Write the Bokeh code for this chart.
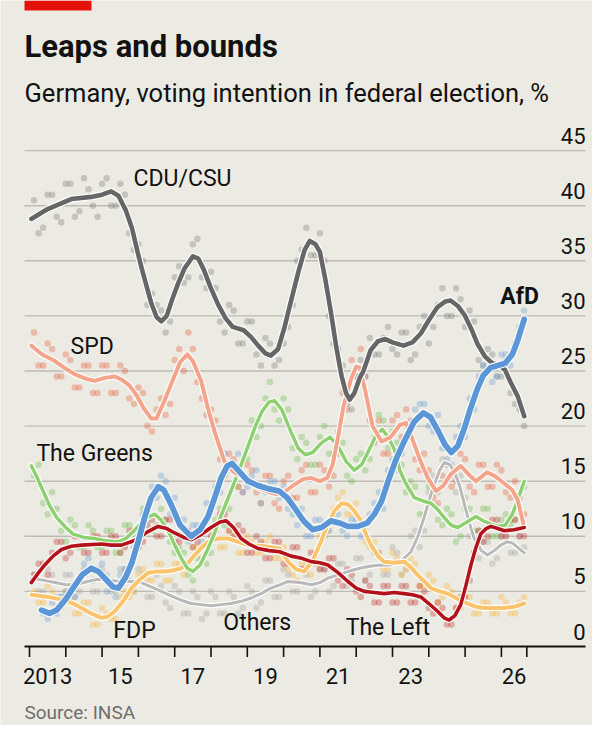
from bokeh.plotting import figure
from bokeh.models import Range1d
from bokeh.core.properties import value
from bokeh.embed import file_html
from bokeh.resources import INLINE

# ---------------- data ----------------
# smoothed trend lines (year, %)
cdu_t = [2013.05, 2013.5, 2014.15, 2014.7, 2015.0, 2015.25, 2015.45, 2015.65, 2015.82, 2016.0, 2016.1, 2016.36, 2016.5,
         2016.63, 2016.78, 2016.92, 2017.1, 2017.27, 2017.5, 2017.65, 2017.8, 2018.0, 2018.2, 2018.4, 2018.6, 2018.9,
         2019.1, 2019.3, 2019.5, 2019.65, 2019.85, 2020.02, 2020.2, 2020.4, 2020.58, 2020.72, 2020.88, 2021.0, 2021.15,
         2021.31, 2021.45, 2021.6, 2021.72, 2021.82, 2021.95, 2022.1, 2022.2, 2022.4, 2022.6, 2022.8, 2023.0, 2023.3,
         2023.55, 2023.78, 2024.0, 2024.24, 2024.45, 2024.6, 2024.8, 2025.0, 2025.2, 2025.35, 2025.55, 2025.75, 2025.95,
         2026.1, 2026.25, 2026.45, 2026.63]
cdu_v = [38.8, 39.7, 40.6, 40.8, 41.0, 41.3, 40.9, 39.6, 38.0, 35.5, 34.2, 31.1, 29.9,
         29.5, 30.0, 31.4, 33.0, 34.3, 35.4, 35.2, 34.2, 32.5, 31.0, 29.8, 29.0, 28.7,
         28.1, 27.3, 26.6, 26.4, 27.0, 28.9, 31.3, 33.9, 36.0, 36.8, 36.5, 35.8, 33.3,
         30.2, 27.2, 24.5, 23.0, 22.4, 23.0, 24.4, 25.0, 26.9, 27.7, 27.9, 27.6, 27.3,
         27.6, 28.4, 29.6, 30.8, 31.3, 31.4, 30.9, 30.0, 28.6, 27.4, 26.3, 25.7, 25.5,
         25.1, 24.0, 22.7, 20.9]

afd_t = [2013.33, 2013.55, 2013.75, 2014.0, 2014.2, 2014.45, 2014.7, 2014.9, 2015.1, 2015.3, 2015.45, 2015.65, 2015.82,
         2016.0, 2016.17, 2016.35, 2016.55, 2016.7, 2016.9, 2017.15, 2017.45, 2017.7, 2017.92, 2018.1, 2018.28, 2018.45,
         2018.58, 2018.8, 2019.02, 2019.3, 2019.6, 2019.88, 2020.1, 2020.3, 2020.55, 2020.8, 2021.05, 2021.3, 2021.55,
         2021.77, 2022.05, 2022.3, 2022.5, 2022.7, 2022.9, 2023.1, 2023.32, 2023.6, 2023.85, 2024.05, 2024.25, 2024.45,
         2024.62, 2024.8, 2024.98, 2025.15, 2025.34, 2025.5, 2025.7, 2025.9, 2026.1, 2026.3, 2026.45, 2026.63]
afd_v = [3.3, 3.0, 3.3, 4.3, 5.3, 6.5, 7.1, 6.8, 6.1, 5.4, 5.3, 6.3, 7.6,
         9.6, 11.7, 13.5, 14.5, 14.2, 12.9, 11.0, 10.0, 10.6, 11.8, 13.5, 15.3, 16.4,
         16.6, 15.8, 15.0, 14.6, 14.3, 14.1, 13.5, 12.6, 11.4, 10.6, 10.8, 11.4, 11.2,
         10.9, 10.9, 11.2, 12.0, 13.2, 15.2, 17.0, 18.6, 20.4, 21.2, 20.8, 19.6, 18.3,
         17.6, 18.2, 19.8, 21.6, 23.4, 24.6, 25.3, 25.5, 25.7, 26.5, 27.8, 29.7]

spd_t = [2013.05, 2013.35, 2013.7, 2014.0, 2014.25, 2014.55, 2014.8, 2015.1, 2015.35, 2015.55, 2015.75, 2015.95, 2016.15,
         2016.35, 2016.5, 2016.72, 2016.95, 2017.15, 2017.35, 2017.5, 2017.73, 2017.9, 2018.1, 2018.37, 2018.6, 2018.8,
         2019.05, 2019.3, 2019.6, 2019.84, 2020.05, 2020.3, 2020.55, 2020.75, 2021.0, 2021.2, 2021.35, 2021.5, 2021.65,
         2021.86, 2022.0, 2022.1, 2022.25, 2022.45, 2022.7, 2022.95, 2023.2, 2023.37, 2023.55, 2023.75, 2023.97, 2024.2,
         2024.4, 2024.6, 2024.88, 2025.1, 2025.3, 2025.6, 2025.8, 2026.0, 2026.3, 2026.45, 2026.63]
spd_v = [27.3, 26.5, 25.9, 25.2, 24.7, 24.3, 24.1, 24.4, 24.5, 24.2, 23.7, 22.8, 21.6,
         20.7, 20.7, 22.3, 24.2, 25.8, 26.5, 25.9, 24.1, 21.8, 19.5, 16.8, 15.9, 15.5,
         15.0, 14.4, 14.0, 13.8, 14.1, 14.7, 15.2, 15.3, 15.0, 15.3, 16.5, 19.0, 21.8,
         24.3, 25.4, 25.3, 23.2, 20.0, 18.6, 19.0, 20.1, 20.3, 18.8, 17.0, 15.3, 14.1,
         14.6, 15.6, 16.4, 15.6, 15.0, 15.8, 15.5, 15.0, 14.2, 13.3, 10.8]

grn_t = [2013.05, 2013.2, 2013.35, 2013.55, 2013.75, 2014.0, 2014.2, 2014.5, 2014.8, 2015.1, 2015.44, 2015.65, 2015.85,
         2016.08, 2016.3, 2016.45, 2016.62, 2016.82, 2017.0, 2017.2, 2017.35, 2017.5, 2017.7, 2017.92, 2018.1, 2018.28,
         2018.5, 2018.74, 2019.0, 2019.2, 2019.4, 2019.6, 2019.75, 2019.95, 2020.2, 2020.4, 2020.6, 2020.8, 2021.05,
         2021.28, 2021.5, 2021.72, 2021.95, 2022.15, 2022.35, 2022.55, 2022.72, 2022.88, 2023.05, 2023.2, 2023.35, 2023.6,
         2023.85, 2024.06, 2024.25, 2024.45, 2024.62, 2024.8, 2025.05, 2025.3, 2025.5, 2025.71, 2025.9, 2026.1, 2026.3,
         2026.45, 2026.63]
grn_v = [16.4, 15.4, 14.3, 12.8, 11.7, 10.8, 10.2, 9.9, 9.8, 9.6, 9.5, 9.8, 10.4,
         11.2, 11.8, 12.0, 11.5, 10.5, 9.2, 7.9, 7.1, 6.8, 7.4, 8.9, 10.3, 11.9,
         13.7, 15.7, 18.0, 19.8, 21.3, 22.2, 22.3, 21.5, 19.5, 18.0, 17.4, 17.6, 18.5,
         19.0, 18.2, 16.8, 16.0, 16.5, 17.8, 19.2, 19.7, 19.0, 17.9, 16.0, 14.9, 13.5,
         13.2, 13.0, 12.4, 11.6, 11.0, 10.8, 11.3, 11.8, 11.4, 11.1, 10.9, 11.0, 12.0,
         13.3, 15.0]

lft_t = [2013.05, 2013.25, 2013.42, 2013.65, 2013.88, 2014.15, 2014.43, 2014.98, 2015.25, 2015.53, 2015.8, 2016.0, 2016.25,
         2016.54, 2016.78, 2017.0, 2017.25, 2017.46, 2017.7, 2018.0, 2018.25, 2018.42, 2018.62, 2018.83, 2019.05, 2019.29,
         2019.6, 2019.89, 2020.21, 2020.5, 2020.76, 2021.0, 2021.22, 2021.5, 2021.77, 2022.0, 2022.22, 2022.5, 2022.77,
         2023.05, 2023.32, 2023.55, 2023.78, 2024.0, 2024.24, 2024.42, 2024.56, 2024.72, 2024.88, 2025.02, 2025.16, 2025.3,
         2025.43, 2025.58, 2025.71, 2025.9, 2026.08, 2026.35, 2026.63]
lft_v = [5.8, 6.7, 7.4, 8.2, 8.8, 9.1, 9.2, 9.3, 9.2, 9.2, 9.5, 9.8, 10.4,
         10.9, 10.7, 10.3, 9.9, 9.7, 10.1, 10.8, 11.3, 11.4, 10.8, 9.8, 9.3, 8.9,
         8.7, 8.6, 8.2, 8.0, 7.7, 7.6, 7.4, 6.7, 5.9, 5.3, 5.0, 4.9, 4.8,
         4.9, 4.8, 4.7, 4.5, 3.9, 3.2, 2.6, 2.4, 2.8, 3.8, 5.5, 7.4, 9.0,
         10.2, 10.7, 10.9, 10.7, 10.5, 10.6, 10.8]

fdp_t = [2013.05, 2013.51, 2013.97, 2014.2, 2014.43, 2014.7, 2014.98, 2015.15, 2015.35, 2015.6, 2015.81, 2016.05, 2016.27,
         2016.5, 2016.72, 2016.95, 2017.18, 2017.4, 2017.55, 2017.75, 2017.92, 2018.2, 2018.47, 2018.75, 2019.02, 2019.47,
         2019.89, 2020.12, 2020.35, 2020.57, 2020.8, 2021.03, 2021.2, 2021.4, 2021.6, 2021.77, 2021.95, 2022.13, 2022.27,
         2022.41, 2022.6, 2022.77, 2023.05, 2023.32, 2023.5, 2023.69, 2023.88, 2024.06, 2024.3, 2024.52, 2024.8, 2025.07,
         2025.3, 2025.53, 2025.8, 2026.08, 2026.35, 2026.63]
fdp_v = [4.7, 4.5, 4.2, 3.9, 3.5, 3.0, 2.6, 2.7, 3.2, 4.2, 5.3, 6.1, 6.7,
         6.8, 6.8, 6.9, 7.1, 7.7, 8.3, 9.0, 9.5, 9.8, 9.8, 9.5, 9.2, 9.1,
         8.9, 7.7, 7.0, 6.8, 7.8, 9.5, 11.0, 12.3, 13.0, 12.9, 12.3, 11.4, 10.2,
         9.2, 8.2, 7.7, 7.6, 7.7, 7.2, 6.5, 5.9, 5.3, 5.0, 4.8, 4.3, 3.9,
         3.6, 3.5, 3.5, 3.5, 3.6, 3.9]

oth_t = [2013.05, 2013.4, 2013.7, 2014.0, 2014.25, 2014.6, 2014.89, 2015.2, 2015.53, 2015.8, 2016.08, 2016.35, 2016.63,
         2016.9, 2017.18, 2017.45, 2017.73, 2018.0, 2018.28, 2018.55, 2018.83, 2019.1, 2019.38, 2019.65, 2019.89, 2020.12,
         2020.45, 2020.76, 2021.0, 2021.22, 2021.5, 2021.77, 2022.1, 2022.41, 2022.7, 2022.96, 2023.25, 2023.51, 2023.7,
         2023.87, 2024.02, 2024.15, 2024.3, 2024.43, 2024.58, 2024.7, 2024.85, 2024.98, 2025.12, 2025.25, 2025.45, 2025.62,
         2025.8, 2025.98, 2026.15, 2026.3, 2026.48, 2026.63]
oth_v = [6.2, 6.0, 5.8, 5.6, 5.6, 5.9, 6.1, 6.0, 5.9, 5.9, 5.8, 5.4, 5.0,
         4.6, 4.2, 3.9, 3.8, 3.7, 3.8, 3.9, 4.1, 4.4, 4.8, 5.3, 5.6, 5.9,
         5.8, 5.6, 5.8, 6.2, 6.5, 6.8, 7.1, 7.3, 7.4, 7.4, 7.8, 8.6, 10.0,
         11.7, 13.4, 14.7, 16.0, 16.7, 16.5, 15.9, 14.6, 12.9, 11.2, 9.8, 8.7, 8.3,
         8.7, 9.2, 9.5, 9.4, 8.9, 8.5]

# individual polls: readings at mid-quarter (poll_t) and at quarter turns (poll_t2)
poll_t = [2013.125, 2013.375, 2013.625, 2013.875, 2014.125, 2014.375, 2014.625, 2014.875,
          2015.125, 2015.375, 2015.625, 2015.875, 2016.125, 2016.375, 2016.625, 2016.875,
          2017.125, 2017.375, 2017.625, 2017.875, 2018.125, 2018.375, 2018.625, 2018.875,
          2019.125, 2019.375, 2019.625, 2019.875, 2020.125, 2020.375, 2020.625, 2020.875,
          2021.125, 2021.375, 2021.625, 2021.875, 2022.125, 2022.375, 2022.625, 2022.875,
          2023.125, 2023.375, 2023.625, 2023.875, 2024.125, 2024.375, 2024.625, 2024.875,
          2025.125, 2025.375, 2025.625, 2025.875, 2026.125, 2026.375, 2026.625]
poll_t2 = [2013.25, 2013.5, 2013.75, 2014.0, 2014.25, 2014.5, 2014.75, 2015.0,
           2015.25, 2015.5, 2015.75, 2016.0, 2016.25, 2016.5, 2016.75, 2017.0,
           2017.25, 2017.5, 2017.75, 2018.0, 2018.25, 2018.5, 2018.75, 2019.0,
           2019.25, 2019.5, 2019.75, 2020.0, 2020.25, 2020.5, 2020.75, 2021.0,
           2021.25, 2021.5, 2021.75, 2022.0, 2022.25, 2022.5, 2022.75, 2023.0,
           2023.25, 2023.5, 2023.75, 2024.0, 2024.25, 2024.5, 2024.75, 2025.0,
           2025.25, 2025.5, 2025.75, 2026.0, 2026.25, 2026.5]

cdu_polls = [40.5, 38.0, 41.0, 38.5, 42.0, 39.5, 41.5, 39.0, 42.5, 40.0, 41.0, 36.0, 35.0, 32.0, 30.5, 29.5,
             34.5, 33.5, 37.0, 32.5, 32.5, 28.5, 30.5, 27.5, 29.5, 25.5, 27.5, 26.0, 29.0, 35.0, 38.0, 35.5,
             35.0, 27.5, 25.5, 21.5, 26.0, 28.0, 26.5, 29.0, 26.5, 28.5, 26.5, 30.0, 29.0, 32.5, 30.0, 31.5,
             30.5, 26.0, 27.0, 24.5, 26.0, 22.0, 20.0]
cdu_polls2 = [37.5, 41.0, 39.0, 42.0, 39.0, 42.5, 40.0, 42.0, 40.0, 42.0, 37.5, 36.5, 31.0, 31.0, 28.5, 33.5,
              33.0, 36.5, 33.5, 34.0, 29.5, 31.0, 27.5, 29.5, 26.5, 28.0, 25.5, 27.5, 31.0, 36.0, 35.5, 37.5,
              30.0, 27.0, 22.0, 24.5, 24.5, 26.5, 28.0, 27.0, 28.5, 26.0, 29.0, 27.5, 31.0, 30.0, 32.5, 29.0,
              29.5, 25.5, 26.5, 24.5, 23.0, 21.5]
afd_polls = [3.0, 4.0, 4.5, 5.5, 6.0, 8.0, 7.0, 5.0, 4.5, 7.0, 9.0, 12.0, 14.5, 15.5, 12.0,
             10.0, 9.5, 11.0, 13.0, 14.5, 17.5, 16.0, 14.0, 15.5, 13.0, 15.0, 13.5, 12.5, 11.0, 10.0, 11.5,
             10.0, 12.0, 10.5, 11.5, 10.0, 12.0, 14.0, 16.0, 16.0, 20.0, 21.5, 22.0, 19.5, 18.0, 16.5, 20.0,
             22.5, 24.5, 26.0, 24.5, 26.5, 27.5, 30.5]
afd_polls2 = [2.5, 3.0, 5.0, 4.5, 7.5, 6.0, 7.5, 6.0, 6.5, 6.0, 10.5, 11.5, 13.5, 15.0, 13.5, 11.5,
              11.0, 9.5, 13.0, 14.0, 16.0, 17.5, 14.5, 16.0, 14.0, 15.0, 14.5, 12.0, 12.5, 10.0, 11.5, 10.5,
              12.0, 10.0, 11.5, 10.5, 13.0, 12.5, 17.0, 17.5, 19.0, 22.0, 20.0, 21.0, 17.0, 19.0, 19.0, 21.5,
              25.5, 24.0, 26.5, 25.5, 29.0]
spd_polls = [28.5, 25.5, 27.0, 24.5, 26.0, 23.5, 25.5, 23.0, 25.5, 23.0, 25.0, 22.0, 23.0, 19.5, 22.5, 22.0,
             27.0, 28.5, 24.0, 21.0, 20.5, 15.5, 17.0, 14.0, 16.0, 13.0, 15.5, 12.5, 15.5, 13.5, 16.5, 14.0,
             16.0, 15.5, 23.0, 26.0, 27.0, 20.5, 20.5, 17.5, 21.0, 21.5, 17.0, 17.5, 13.5, 15.5, 14.5, 17.5,
             14.5, 16.5, 14.5, 16.5, 14.0, 15.0, 12.0]
spd_polls2 = [25.5, 27.5, 24.5, 26.5, 23.5, 25.5, 23.0, 25.5, 23.0, 25.5, 22.5, 23.5, 20.0, 21.5, 21.0, 26.0,
              25.0, 27.0, 22.5, 21.5, 17.0, 17.5, 14.5, 16.5, 14.0, 15.5, 13.0, 15.0, 13.5, 16.0, 14.0, 16.5,
              14.5, 17.5, 21.5, 24.5, 24.5, 18.5, 17.5, 20.5, 19.0, 20.5, 16.0, 16.0, 13.0, 16.5, 15.0, 17.0,
              14.0, 16.5, 14.5, 16.0, 13.5, 13.5]
grn_polls = [15.5, 13.0, 14.0, 10.5, 11.5, 9.0, 11.0, 9.0, 10.5, 8.5, 11.0, 9.5, 12.5, 10.5, 12.5, 9.5,
             9.0, 6.5, 8.0, 7.5, 11.5, 11.0, 16.0, 15.5, 20.5, 20.0, 24.0, 20.5, 21.5, 17.0, 18.5, 16.5,
             20.0, 17.5, 18.5, 15.0, 17.5, 17.0, 21.0, 18.0, 18.5, 14.0, 14.5, 12.0, 14.0, 11.0, 12.0, 10.0,
             12.5, 10.5, 12.5, 10.0, 12.0, 11.5, 14.5]
grn_polls2 = [16.5, 12.0, 12.5, 9.5, 11.0, 9.0, 10.5, 9.0, 10.5, 8.5, 11.0, 10.0, 12.5, 11.0, 11.5, 8.5,
              8.5, 6.0, 9.0, 8.5, 12.5, 12.5, 14.5, 17.0, 19.0, 22.5, 21.5, 22.5, 18.0, 19.0, 16.5, 19.0,
              17.5, 19.5, 15.5, 17.0, 16.0, 19.0, 20.5, 19.5, 16.5, 15.0, 12.0, 14.5, 11.5, 12.5, 9.5, 12.5,
              10.5, 12.5, 10.0, 11.5, 11.0, 12.5]
lft_polls = [6.5, 7.5, 8.5, 9.5, 8.5, 10.0, 8.5, 10.0, 8.5, 10.0, 9.0, 10.5, 9.5, 11.5, 10.0, 11.5,
             9.5, 10.5, 9.5, 11.5, 10.5, 12.0, 10.0, 10.5, 8.5, 9.5, 8.0, 9.5, 7.5, 9.0, 7.0, 8.5,
             7.0, 8.0, 5.5, 6.5, 4.5, 5.5, 4.0, 5.5, 4.0, 5.5, 4.0, 5.0, 3.0, 3.5, 2.0, 4.5,
             6.0, 10.5, 10.0, 11.5, 10.0, 11.5, 10.0]
lft_polls2 = [7.5, 6.5, 9.5, 8.0, 10.0, 8.5, 10.0, 8.5, 10.0, 8.5, 10.5, 9.0, 11.0, 10.0, 11.5, 9.5,
              10.5, 9.0, 11.0, 10.0, 12.0, 10.5, 11.0, 8.5, 10.0, 8.0, 9.5, 7.5, 9.0, 7.0, 8.5, 7.0,
              8.0, 6.0, 7.0, 5.0, 6.0, 4.0, 5.5, 4.0, 5.5, 4.0, 5.5, 3.5, 4.0, 2.0, 3.5, 4.5,
              8.5, 9.5, 11.5, 10.0, 11.5, 10.0]
fdp_polls = [5.0, 4.0, 5.0, 3.5, 4.5, 3.0, 4.0, 2.0, 3.0, 2.5, 5.0, 5.0, 7.0, 6.0, 7.5, 6.0,
             7.5, 7.0, 9.0, 8.5, 10.5, 9.0, 10.0, 8.5, 9.5, 8.5, 10.0, 8.0, 7.0, 6.0, 7.5, 7.5,
             11.0, 12.5, 14.0, 12.0, 11.5, 9.0, 8.5, 7.0, 8.0, 7.0, 7.5, 5.5, 6.0, 4.5, 5.0, 3.5,
             4.5, 3.0, 4.0, 3.0, 4.0, 3.0, 4.5]
fdp_polls2 = [4.0, 5.5, 3.5, 5.0, 3.0, 4.0, 2.0, 3.5, 2.5, 4.5, 4.5, 6.5, 6.0, 7.5, 6.0, 7.5,
              6.5, 9.0, 8.0, 10.5, 9.0, 10.5, 8.5, 10.0, 8.5, 9.5, 8.0, 9.0, 6.5, 7.5, 6.5, 10.0,
              10.5, 13.5, 12.0, 13.0, 9.5, 9.5, 7.0, 8.5, 6.5, 8.0, 5.5, 6.5, 4.0, 5.5, 3.5, 4.5,
              3.0, 4.0, 3.0, 4.5, 3.0, 4.0]
oth_polls = [6.5, 5.0, 6.5, 4.5, 6.5, 5.0, 7.0, 5.0, 6.5, 5.0, 7.0, 5.0, 6.5, 4.5, 5.5, 3.5,
             5.0, 3.0, 4.5, 3.0, 4.5, 3.0, 4.5, 3.5, 5.0, 4.0, 6.0, 4.5, 6.5, 5.0, 6.5, 5.0,
             7.0, 5.5, 7.5, 6.0, 8.0, 6.5, 8.5, 6.5, 8.5, 7.0, 10.5, 10.5, 15.5, 17.0, 15.5, 15.5,
             10.0, 8.0, 9.5, 8.0, 10.0, 8.5, 9.0]
oth_polls2 = [5.0, 7.0, 4.5, 6.5, 4.5, 7.0, 5.0, 7.0, 5.0, 7.0, 5.0, 7.0, 4.5, 6.5, 4.0, 5.5,
              3.0, 5.0, 2.5, 5.0, 3.0, 5.0, 3.0, 5.5, 3.5, 6.0, 4.5, 7.0, 5.0, 7.0, 4.5, 7.0,
              5.0, 7.5, 5.5, 8.0, 6.0, 8.5, 6.5, 9.0, 6.5, 10.0, 9.0, 14.0, 14.0, 18.0, 14.0, 13.5,
              8.5, 9.5, 7.5, 10.0, 8.5, 10.0]

y_ticks = [0, 5, 10, 15, 20, 25, 30, 35, 40, 45]
x_ticks = [2013, 2014, 2015, 2016, 2017, 2018, 2019, 2020, 2021, 2022, 2023, 2024, 2025, 2026, 2026.7]
x_label_pos = [2013.5, 2015.5, 2017.5, 2019.5, 2021.5, 2023.5, 2026.35]
x_label_txt = ["2013", "15", "17", "19", "21", "23", "26"]

# ---------------- styling ----------------
BG = "#ecebe3"
FONT = "Roboto"
INK = "#121212"
GRID = "#bdbbb3"

W, H = 592, 725
PX_PER_YEAR = 36.3
PX_PER_PT = 11.02
X0 = 2013 - 29 / PX_PER_YEAR
Y_TOP = 646 / PX_PER_PT
Y_BOT = (646 - H) / PX_PER_PT

p = figure(width=W, height=H, x_range=Range1d(X0, X0 + W / PX_PER_YEAR),
           y_range=Range1d(Y_BOT, Y_TOP), output_backend="svg", toolbar_location=None,
           x_axis_type=None, y_axis_type=None, title=None,
           min_border=0, min_border_left=0, min_border_right=0, min_border_top=0, min_border_bottom=0)
p.background_fill_color = BG
p.border_fill_color = BG
p.outline_line_color = None
p.grid.visible = False

GX0 = 2013 - 5 / PX_PER_YEAR
GX1 = 2013 + 556 / PX_PER_YEAR

# grid lines
gy = y_ticks[1:]
p.segment(x0=[GX0] * len(gy), y0=gy, x1=[GX1] * len(gy), y1=gy, line_color=GRID, line_width=1.4)

# poll dots
series = [
    (oth_polls, oth_polls2, poll_t, poll_t2, "#a3a3a3"),
    (fdp_polls, fdp_polls2, poll_t, poll_t2, "#f7b641"),
    (grn_polls, grn_polls2, poll_t, poll_t2, "#6fbd4f"),
    (spd_polls, spd_polls2, poll_t, poll_t2, "#e5623f"),
    (lft_polls, lft_polls2, poll_t, poll_t2, "#c0372e"),
    (cdu_polls, cdu_polls2, poll_t, poll_t2, "#7d7d7d"),
    (afd_polls, afd_polls2, poll_t[1:], poll_t2[1:], "#6d9fd8"),
]
for vals, vals2, ts, ts2, c in series:
    p.scatter(x=ts, y=vals, size=6.5, fill_color=c, fill_alpha=0.36, line_color=None)
    p.scatter(x=ts2, y=vals2, size=6.5, fill_color=c, fill_alpha=0.36, line_color=None)

# trend lines
lines = [
    (oth_t, oth_v, "#b9b9b9", 3.0),
    (fdp_t, fdp_v, "#fbc46c", 4.0),
    (grn_t, grn_v, "#8dd06f", 3.5),
    (spd_t, spd_v, "#f4a48b", 4.0),
    (lft_t, lft_v, "#b3121b", 3.6),
    (cdu_t, cdu_v, "#666666", 4.6),
    (afd_t, afd_v, "#5b97d7", 5.8),
]
for ts, vs, c, w in lines:
    p.line(x=ts, y=vs, line_color="white", line_width=w + 2.2, line_join="round", line_cap="round")
    p.line(x=ts, y=vs, line_color=c, line_width=w, line_join="round", line_cap="round")

# zero line / x axis
p.segment(x0=[GX0], y0=[0], x1=[GX1], y1=[0], line_color=INK, line_width=2)
p.segment(x0=x_ticks, y0=[0] * len(x_ticks), x1=x_ticks, y1=[-0.95] * len(x_ticks),
          line_color=INK, line_width=1.6)


def txt(x, y, s, size, bold=False, color=INK, align="left", yoff=0):
    p.text(x=x, y=y, text=s, text_font=value(FONT), text_font_size=f"{size}px",
           text_font_style="bold" if bold else "normal", text_color=color,
           text_align=align, text_baseline="middle", y_offset=yoff)


# y labels (right), sitting above their grid line
txt([GX1] * len(y_ticks), y_ticks, [str(v) for v in y_ticks], 22, align="right", yoff=-15)
# x labels
txt(x_label_pos, [-2.66] * len(x_label_pos), x_label_txt, 22, align="center")

# series labels
txt([2015.865], [42.47], ["CDU/CSU"], 23)
txt([2014.13], [27.22], ["SPD"], 23)
txt([2013.19], [17.51], ["The Greens"], 23)
txt([2015.31], [1.48], ["FDP"], 23)
txt([2018.34], [2.18], ["Others"], 23)
txt([2021.71], [1.72], ["The Left"], 23)
txt([2025.97], [31.76], ["AfD"], 23, bold=True)

# title block
txt([GX0], [54.43], ["Leaps and bounds"], 31, bold=True)
txt([GX0], [50.21], ["Germany, voting intention in federal election, %"], 25.5)
txt([GX0], [-5.99], ["Source: INSA"], 19, color="#6e6e6e")

# red tag
p.quad(left=[GX0], right=[2013 + 62 / PX_PER_YEAR], top=[Y_TOP], bottom=[Y_TOP - 10 / PX_PER_PT],
       fill_color="#e3120b", line_color=None)

open("out.html", "w").write(file_html(p, INLINE))
